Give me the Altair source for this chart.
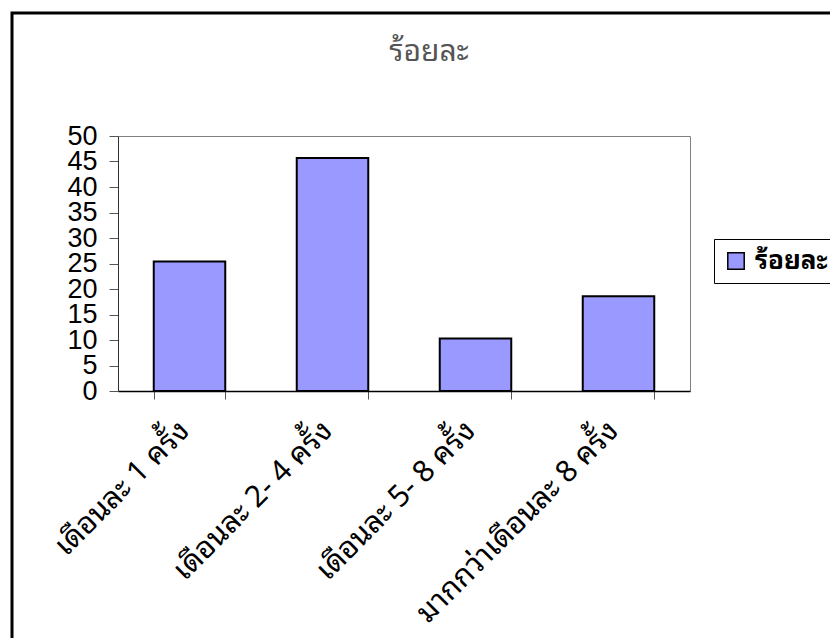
import altair as alt
import pandas as pd

categories = ["เดือนละ 1 ครั้ง", "เดือนละ 2- 4 ครั้ง", "เดือนละ 5- 8 ครั้ง", "มากกว่าเดือนละ 8 ครั้ง"]
values = [25.4, 45.7, 10.3, 18.6]
series_name = "ร้อยละ"
y_ticks = [0, 5, 10, 15, 20, 25, 30, 35, 40, 45, 50]

df = pd.DataFrame({"cat": categories, "val": values, "series": [series_name] * len(categories)})

THAI = "Noto Sans Thai Looped, Noto Serif Thai, Tahoma, Noto Sans Thai, sans-serif"

W, H = 572, 255
PL, PT = 118, 136

bars = alt.Chart(df).mark_bar(stroke="black", strokeWidth=2, opacity=1).encode(
    x=alt.X("cat:N", sort=categories, title=None,
            scale=alt.Scale(paddingInner=0.5, paddingOuter=0.25),
            axis=alt.Axis(labelAngle=-45, labelFont=THAI, labelFontSize=30, labelColor="black",
                          labelPadding=16, labelOffset=-16, tickBand="extent", tickSize=8,
                          tickColor="#555555", domainColor="black", domainWidth=1.5,
                          labelLimit=400)),
    y=alt.Y("val:Q", title=None, scale=alt.Scale(domain=[0, 50], nice=False),
            axis=alt.Axis(values=y_ticks, labelFont="Liberation Sans", labelFontSize=27,
                          labelColor="black", tickSize=9, tickColor="#555555", labelPadding=12,
                          domainColor="#333333", grid=False, labelBaseline="middle",
                          labelOverlap=False)),
    color=alt.Color("series:N", title=None,
                    scale=alt.Scale(range=["#9999FF"]),
                    legend=alt.Legend(orient="none", legendX=596, legendY=103,
                                      strokeColor="black", fillColor="white", padding=9,
                                      symbolType="square", symbolSize=270,
                                      symbolStrokeColor="black", symbolStrokeWidth=1.5,
                                      symbolOpacity=1, labelFont=THAI, labelFontSize=26,
                                      labelFontWeight="bold", labelColor="black", labelOffset=6,
                                      labelLimit=300)),
)

border = alt.Chart(alt.Data(values=[{}])).mark_rect(
    fill=None, stroke="black", strokeWidth=3, fillOpacity=0
).encode(
    x=alt.value(12 - PL), y=alt.value(13 - PT),
    x2=alt.value(830 - PL + 20), y2=alt.value(638 - PT + 20),
)

chart = alt.layer(border, bars).properties(
    width=W, height=H,
    title=alt.TitleParams(series_name, font=THAI, fontSize=30, fontWeight="normal",
                          color="#555555", anchor="middle", dx=25, offset=-55),
    autosize=alt.AutoSizeParams(type="none"),
    padding={"left": PL, "top": PT, "right": 830 - PL - W, "bottom": 638 - PT - H},
    background="white",
).configure_view(stroke="#808080", strokeWidth=1)

chart.save("out.html", embed_options={"renderer": "svg", "actions": False})
